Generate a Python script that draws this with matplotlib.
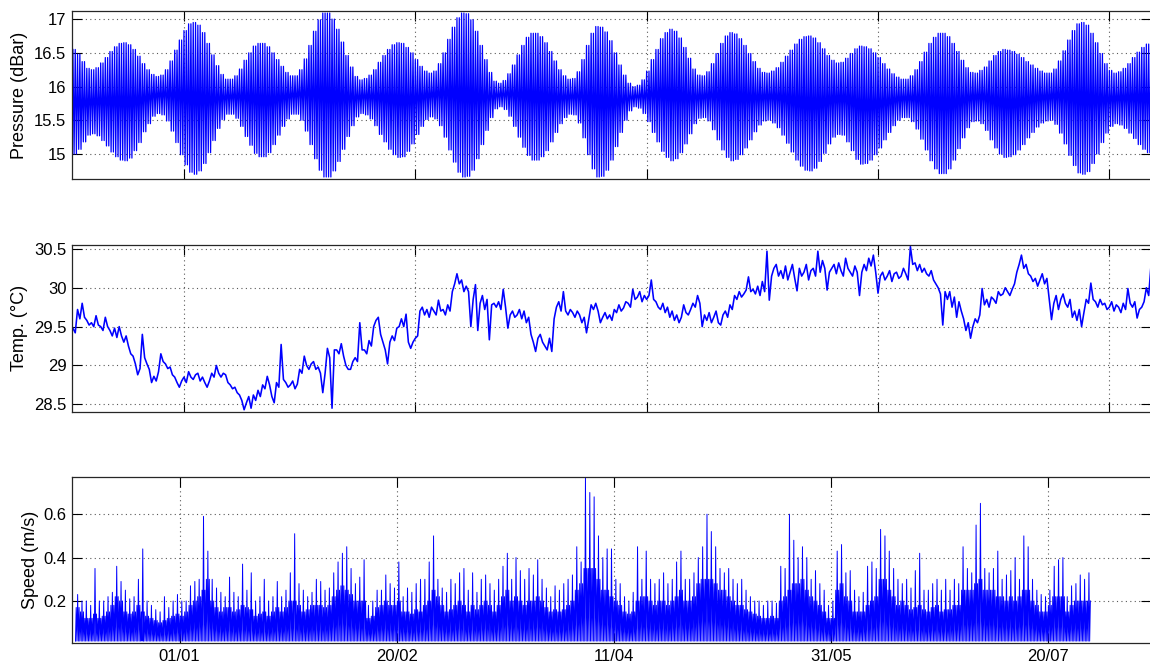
import numpy as np
import matplotlib
matplotlib.use("Agg")
import matplotlib.pyplot as plt

# ---------------- data (days counted from 01/01) ----------------
first_day = -24
last_day = 209

# daily high / low envelope of the tidal pressure signal (dBar)
pressure_high = [
    16.55, 16.48, 16.37, 16.27, 16.25, 16.28, 16.35, 16.43, 16.52, 16.59,
    16.64, 16.65, 16.62, 16.55, 16.45, 16.34, 16.25, 16.18, 16.15, 16.17,
    16.25, 16.38, 16.54, 16.69, 16.83, 16.93, 16.95, 16.91, 16.80, 16.64,
    16.47, 16.31, 16.18, 16.11, 16.11, 16.16, 16.26, 16.39, 16.50, 16.60,
    16.64, 16.64, 16.59, 16.50, 16.40, 16.30, 16.21, 16.16, 16.16, 16.25,
    16.41, 16.61, 16.82, 16.99, 17.09, 17.09, 17.00, 16.85, 16.66, 16.46,
    16.29, 16.15, 16.10, 16.12, 16.17, 16.25, 16.36, 16.46, 16.55, 16.62,
    16.65, 16.64, 16.58, 16.50, 16.40, 16.30, 16.23, 16.20, 16.23, 16.34,
    16.50, 16.70, 16.88, 17.02, 17.09, 17.08, 16.99, 16.82, 16.61, 16.40,
    16.21, 16.08, 16.05, 16.09, 16.19, 16.32, 16.47, 16.61, 16.73, 16.79,
    16.79, 16.74, 16.65, 16.52, 16.38, 16.25, 16.16, 16.11, 16.12, 16.22,
    16.40, 16.61, 16.79, 16.89, 16.88, 16.81, 16.68, 16.50, 16.32, 16.17,
    16.05, 16.00, 16.02, 16.10, 16.23, 16.40, 16.55, 16.71, 16.80, 16.85,
    16.82, 16.72, 16.58, 16.42, 16.26, 16.17, 16.16, 16.22, 16.34, 16.49,
    16.64, 16.75, 16.80, 16.78, 16.71, 16.61, 16.49, 16.37, 16.27, 16.21,
    16.20, 16.23, 16.28, 16.36, 16.45, 16.54, 16.63, 16.70, 16.74, 16.75,
    16.72, 16.65, 16.56, 16.46, 16.39, 16.35, 16.36, 16.42, 16.49, 16.56,
    16.60, 16.59, 16.56, 16.50, 16.43, 16.34, 16.26, 16.19, 16.14, 16.11,
    16.11, 16.16, 16.25, 16.37, 16.51, 16.64, 16.73, 16.79, 16.79, 16.74,
    16.64, 16.52, 16.39, 16.28, 16.21, 16.20, 16.24, 16.29, 16.38, 16.46,
    16.52, 16.55, 16.54, 16.52, 16.48, 16.43, 16.37, 16.32, 16.27, 16.23,
    16.20, 16.20, 16.26, 16.38, 16.53, 16.69, 16.83, 16.93, 16.95, 16.91,
    16.79, 16.65, 16.49, 16.34, 16.24, 16.20, 16.22, 16.27, 16.34, 16.43,
    16.51, 16.58, 16.63, 16.65,
]
pressure_low = [
    15.00, 15.07, 15.18, 15.28, 15.30, 15.27, 15.20, 15.12, 15.03, 14.96,
    14.91, 14.90, 14.94, 15.05, 15.17, 15.33, 15.45, 15.56, 15.60, 15.58,
    15.49, 15.34, 15.17, 14.99, 14.84, 14.73, 14.70, 14.75, 14.86, 15.02,
    15.20, 15.38, 15.51, 15.59, 15.59, 15.53, 15.41, 15.26, 15.13, 15.01,
    14.96, 14.96, 15.02, 15.14, 15.28, 15.41, 15.52, 15.59, 15.59, 15.50,
    15.34, 15.14, 14.93, 14.76, 14.66, 14.66, 14.75, 14.89, 15.07, 15.26,
    15.42, 15.55, 15.60, 15.58, 15.52, 15.42, 15.29, 15.18, 15.07, 14.99,
    14.95, 14.96, 15.04, 15.15, 15.29, 15.41, 15.51, 15.55, 15.52, 15.42,
    15.25, 15.06, 14.88, 14.73, 14.66, 14.67, 14.76, 14.93, 15.14, 15.35,
    15.54, 15.67, 15.70, 15.66, 15.56, 15.41, 15.25, 15.10, 14.98, 14.91,
    14.91, 14.96, 15.05, 15.18, 15.32, 15.45, 15.54, 15.59, 15.58, 15.46,
    15.24, 14.99, 14.78, 14.66, 14.67, 14.76, 14.91, 15.11, 15.32, 15.50,
    15.64, 15.70, 15.68, 15.60, 15.48, 15.32, 15.18, 15.04, 14.95, 14.90,
    14.93, 15.02, 15.15, 15.30, 15.45, 15.53, 15.54, 15.49, 15.36, 15.21,
    15.06, 14.95, 14.90, 14.92, 14.99, 15.09, 15.21, 15.33, 15.43, 15.49,
    15.50, 15.46, 15.39, 15.28, 15.16, 15.03, 14.91, 14.82, 14.76, 14.75,
    14.79, 14.89, 15.01, 15.15, 15.25, 15.29, 15.28, 15.18, 15.05, 14.92,
    14.85, 14.86, 14.91, 14.99, 15.09, 15.21, 15.32, 15.42, 15.50, 15.54,
    15.54, 15.48, 15.37, 15.22, 15.06, 14.90, 14.78, 14.71, 14.71, 14.78,
    14.91, 15.08, 15.24, 15.39, 15.48, 15.49, 15.45, 15.35, 15.21, 15.09,
    15.00, 14.95, 14.96, 14.99, 15.06, 15.14, 15.24, 15.32, 15.40, 15.46,
    15.49, 15.50, 15.44, 15.31, 15.15, 14.98, 14.83, 14.72, 14.70, 14.74,
    14.86, 15.00, 15.17, 15.31, 15.41, 15.45, 15.43, 15.38, 15.31, 15.23,
    15.14, 15.07, 15.02, 15.00,
]

# temperature, two readings per day (degC)
temperature = [
    29.48, 29.42, 29.72, 29.60, 29.80, 29.62, 29.58, 29.52, 29.55, 29.50,
    29.64, 29.52, 29.50, 29.45, 29.62, 29.50, 29.45, 29.38, 29.48, 29.36,
    29.50, 29.38, 29.30, 29.38, 29.25, 29.15, 29.12, 29.02, 28.88, 28.96,
    29.40, 29.10, 29.02, 28.95, 28.78, 28.86, 28.80, 28.92, 29.15, 29.05,
    29.02, 28.96, 28.98, 28.88, 28.85, 28.78, 28.72, 28.80, 28.85, 28.78,
    28.92, 28.85, 28.82, 28.88, 28.90, 28.80, 28.85, 28.78, 28.72, 28.80,
    28.90, 28.85, 29.00, 28.90, 28.85, 28.90, 28.88, 28.78, 28.75, 28.70,
    28.72, 28.65, 28.62, 28.55, 28.43, 28.52, 28.60, 28.45, 28.62, 28.55,
    28.68, 28.60, 28.75, 28.70, 28.86, 28.75, 28.60, 28.52, 28.78, 28.72,
    29.27, 28.82, 28.78, 28.72, 28.75, 28.80, 28.70, 28.76, 28.95, 28.90,
    29.12, 29.00, 28.95, 29.02, 29.05, 28.95, 28.98, 28.90, 28.65, 28.90,
    29.22, 29.10, 28.45, 29.20, 29.20, 29.15, 29.28, 29.12, 29.00, 28.95,
    28.95, 29.05, 29.10, 29.05, 29.55, 29.20, 29.20, 29.15, 29.32, 29.25,
    29.50, 29.58, 29.62, 29.40, 29.30, 29.20, 29.02, 29.30, 29.38, 29.32,
    29.48, 29.50, 29.60, 29.50, 29.66, 29.30, 29.22, 29.30, 29.35, 29.38,
    29.70, 29.75, 29.65, 29.72, 29.62, 29.75, 29.70, 29.65, 29.84, 29.70,
    29.72, 29.65, 29.78, 29.70, 29.95, 30.05, 30.18, 30.05, 30.10, 29.95,
    30.02, 29.95, 29.50, 29.85, 30.04, 29.45, 29.80, 29.90, 29.72, 29.85,
    29.33, 29.78, 29.80, 29.75, 29.82, 29.72, 29.98, 29.75, 29.48, 29.65,
    29.70, 29.62, 29.65, 29.72, 29.60, 29.70, 29.55, 29.62, 29.40, 29.30,
    29.18, 29.35, 29.40, 29.30, 29.25, 29.20, 29.35, 29.18, 29.60, 29.75,
    29.82, 29.70, 29.95, 29.70, 29.65, 29.72, 29.68, 29.62, 29.70, 29.65,
    29.55, 29.62, 29.42, 29.60, 29.78, 29.72, 29.80, 29.70, 29.55, 29.62,
    29.68, 29.60, 29.65, 29.58, 29.72, 29.68, 29.78, 29.70, 29.74, 29.82,
    29.80, 29.75, 29.98, 29.85, 29.88, 29.95, 29.82, 29.90, 29.85, 29.90,
    30.10, 29.85, 29.82, 29.75, 29.72, 29.80, 29.68, 29.75, 29.62, 29.70,
    29.58, 29.65, 29.55, 29.62, 29.78, 29.68, 29.65, 29.72, 29.80, 29.75,
    29.90, 29.80, 29.50, 29.65, 29.58, 29.68, 29.55, 29.62, 29.70, 29.55,
    29.52, 29.65, 29.70, 29.62, 29.78, 29.72, 29.90, 29.85, 29.95, 29.88,
    29.92, 29.97, 30.14, 29.95, 29.98, 29.92, 30.02, 29.90, 30.08, 29.95,
    30.47, 29.84, 30.15, 30.25, 30.30, 30.15, 30.22, 30.12, 30.28, 30.10,
    30.20, 30.30, 30.12, 29.96, 30.25, 30.15, 30.20, 30.30, 30.10, 30.22,
    30.25, 30.15, 30.47, 30.20, 30.35, 30.25, 29.97, 30.20, 30.25, 30.30,
    30.18, 30.32, 30.22, 30.15, 30.38, 30.25, 30.20, 30.15, 30.28, 30.20,
    29.90, 30.20, 30.30, 30.22, 30.38, 30.28, 30.42, 30.20, 29.93, 30.15,
    30.20, 30.10, 30.15, 30.22, 30.08, 30.18, 30.20, 30.12, 30.15, 30.25,
    30.18, 30.10, 30.53, 30.30, 30.32, 30.22, 30.30, 30.20, 30.25, 30.18,
    30.15, 30.22, 30.10, 30.05, 30.00, 29.92, 29.52, 29.95, 29.85, 29.95,
    29.75, 29.88, 29.62, 29.82, 29.70, 29.60, 29.45, 29.55, 29.35, 29.50,
    29.60, 29.55, 29.65, 29.99, 29.78, 29.85, 29.75, 29.88, 29.85, 29.80,
    29.95, 29.90, 29.92, 30.00, 29.95, 29.90, 29.98, 30.05, 30.20, 30.30,
    30.42, 30.25, 30.30, 30.18, 30.15, 30.08, 30.12, 30.02, 30.10, 30.18,
    30.05, 30.12, 29.85, 29.59, 29.80, 29.90, 29.72, 29.85, 29.92, 29.80,
    29.75, 29.85, 29.62, 29.70, 29.58, 29.72, 29.50, 29.68, 29.85, 29.80,
    30.06, 29.85, 29.82, 29.75, 29.85, 29.78, 29.80, 29.72, 29.75, 29.82,
    29.70, 29.78, 29.75, 29.68, 29.80, 29.72, 29.99, 29.80, 29.75, 29.82,
    29.61, 29.72, 29.75, 29.82, 30.00, 29.90, 30.29, 30.10,
]

# current speed: typical daily upper level and daily spike (m/s)
speed_floor = 0.015
speed_top = [
    0.17, 0.15, 0.12, 0.12, 0.14, 0.12, 0.13, 0.15, 0.18, 0.22,
    0.20, 0.15, 0.14, 0.15, 0.18, 0.15, 0.13, 0.12, 0.11, 0.10,
    0.11, 0.12, 0.13, 0.14, 0.13, 0.15, 0.18, 0.20, 0.22, 0.25,
    0.30, 0.20, 0.17, 0.15, 0.17, 0.17, 0.15, 0.16, 0.18, 0.17,
    0.16, 0.13, 0.14, 0.15, 0.13, 0.15, 0.17, 0.15, 0.17, 0.20,
    0.20, 0.18, 0.15, 0.16, 0.18, 0.18, 0.18, 0.17, 0.18, 0.22,
    0.25, 0.27, 0.25, 0.23, 0.20, 0.20, 0.20, 0.12, 0.13, 0.17,
    0.18, 0.20, 0.18, 0.18, 0.20, 0.15, 0.15, 0.14, 0.16, 0.15,
    0.18, 0.20, 0.25, 0.22, 0.18, 0.15, 0.16, 0.18, 0.20, 0.18,
    0.15, 0.18, 0.16, 0.18, 0.20, 0.18, 0.15, 0.18, 0.22, 0.25,
    0.20, 0.22, 0.20, 0.18, 0.20, 0.20, 0.22, 0.20, 0.17, 0.15,
    0.16, 0.15, 0.16, 0.18, 0.20, 0.25, 0.28, 0.35, 0.35, 0.35,
    0.30, 0.25, 0.25, 0.22, 0.20, 0.18, 0.15, 0.14, 0.15, 0.20,
    0.22, 0.22, 0.20, 0.18, 0.20, 0.20, 0.18, 0.20, 0.22, 0.25,
    0.20, 0.20, 0.22, 0.28, 0.30, 0.30, 0.30, 0.28, 0.25, 0.25,
    0.22, 0.20, 0.18, 0.18, 0.16, 0.15, 0.14, 0.13, 0.12, 0.12,
    0.13, 0.12, 0.20, 0.22, 0.25, 0.28, 0.28, 0.30, 0.25, 0.22,
    0.20, 0.18, 0.15, 0.12, 0.12, 0.25, 0.28, 0.22, 0.20, 0.15,
    0.15, 0.15, 0.18, 0.20, 0.22, 0.30, 0.30, 0.25, 0.22, 0.18,
    0.20, 0.18, 0.16, 0.17, 0.18, 0.16, 0.15, 0.17, 0.18, 0.15,
    0.16, 0.16, 0.18, 0.18, 0.25, 0.25, 0.25, 0.28, 0.30, 0.25,
    0.25, 0.25, 0.22, 0.22, 0.20, 0.22, 0.20, 0.22, 0.25, 0.25,
    0.20, 0.18, 0.15, 0.15, 0.18, 0.22, 0.22, 0.22, 0.15, 0.18,
    0.20, 0.20, 0.20, 0.20,
]
speed_peak = [
    0.23, 0.20, 0.20, 0.18, 0.35, 0.20, 0.20, 0.22, 0.24, 0.36,
    0.29, 0.25, 0.21, 0.22, 0.30, 0.44, 0.20, 0.18, 0.16, 0.15,
    0.22, 0.17, 0.20, 0.23, 0.20, 0.20, 0.27, 0.29, 0.30, 0.59,
    0.43, 0.30, 0.26, 0.24, 0.22, 0.31, 0.24, 0.22, 0.37, 0.25,
    0.33, 0.20, 0.22, 0.30, 0.20, 0.22, 0.29, 0.22, 0.25, 0.33,
    0.51, 0.28, 0.25, 0.22, 0.24, 0.30, 0.29, 0.25, 0.26, 0.33,
    0.38, 0.42, 0.45, 0.35, 0.28, 0.31, 0.39, 0.18, 0.20, 0.25,
    0.25, 0.32, 0.28, 0.26, 0.38, 0.22, 0.26, 0.24, 0.28, 0.30,
    0.30, 0.38, 0.50, 0.30, 0.26, 0.24, 0.30, 0.28, 0.33, 0.35,
    0.25, 0.33, 0.24, 0.30, 0.32, 0.28, 0.25, 0.30, 0.36, 0.42,
    0.30, 0.40, 0.34, 0.30, 0.35, 0.32, 0.39, 0.30, 0.26, 0.22,
    0.27, 0.25, 0.28, 0.30, 0.32, 0.45, 0.38, 0.77, 0.70, 0.68,
    0.50, 0.40, 0.44, 0.44, 0.30, 0.28, 0.22, 0.20, 0.24, 0.45,
    0.30, 0.43, 0.30, 0.28, 0.30, 0.33, 0.28, 0.30, 0.38, 0.43,
    0.30, 0.30, 0.33, 0.40, 0.45, 0.60, 0.52, 0.45, 0.35, 0.33,
    0.35, 0.30, 0.28, 0.30, 0.25, 0.22, 0.20, 0.20, 0.18, 0.20,
    0.20, 0.19, 0.36, 0.35, 0.60, 0.48, 0.40, 0.45, 0.40, 0.30,
    0.34, 0.28, 0.25, 0.18, 0.20, 0.43, 0.46, 0.33, 0.34, 0.25,
    0.22, 0.24, 0.36, 0.38, 0.35, 0.53, 0.50, 0.43, 0.35, 0.30,
    0.28, 0.30, 0.26, 0.34, 0.42, 0.25, 0.25, 0.28, 0.30, 0.25,
    0.30, 0.25, 0.30, 0.28, 0.45, 0.35, 0.33, 0.55, 0.65, 0.35,
    0.33, 0.35, 0.43, 0.30, 0.32, 0.34, 0.40, 0.30, 0.50, 0.45,
    0.30, 0.25, 0.23, 0.22, 0.25, 0.36, 0.39, 0.40, 0.22, 0.27,
    0.28, 0.32, 0.30, 0.33,
]

tick_days = [0, 50, 100, 150, 200]
tick_labels = ["01/01", "20/02", "11/04", "31/05", "20/07"]
p_ticks = [15, 15.5, 16, 16.5, 17]
t_ticks = [28.5, 29, 29.5, 30, 30.5]
s_ticks = [0.2, 0.4, 0.6]

# ---------------- build plotted series ----------------
days = np.arange(first_day, last_day + 1)
ph = np.asarray(pressure_high)
pl = np.asarray(pressure_low)
p_t = (days[:, None] + np.array([0.0, 0.25, 0.5, 0.75])[None, :]).ravel()
p_v = np.column_stack([ph, pl, ph, pl]).ravel()

t_v = np.asarray(temperature)
t_t = first_day + 0.5 * np.arange(len(t_v))

st = np.asarray(speed_top)
sp = np.asarray(speed_peak)
sf = np.full_like(st, speed_floor)
s_t = (days[:, None] + np.arange(6)[None, :] / 6.0).ravel()
s_v = np.column_stack([sf, st, sf, sp, sf, st]).ravel()

# ---------------- figure ----------------
plt.rcParams["font.family"] = ["Liberation Sans", "DejaVu Sans"]
W, H = 1150, 666
fig = plt.figure(figsize=(W / 100, H / 100), dpi=100)
left = 72 / W
width = 1079 / W
ax1 = fig.add_axes([left, 1 - 179 / H, width, 168 / H])
ax2 = fig.add_axes([left, 1 - 411.7 / H, width, 166.7 / H])
ax3 = fig.add_axes([left, 1 - 643.3 / H, width, 166 / H])

blue = "#0000ff"
ax1.plot(p_t, p_v, color=blue, lw=0.9)
ax2.plot(t_t, t_v, color=blue, lw=1.15)
ax3.plot(s_t, s_v, color=blue, lw=0.7)

ax1.set_xlim(-24.2, 209.0)
ax2.set_xlim(-24.2, 209.0)
ax3.set_xlim(-24.8, 223.8)
ax1.set_ylim(14.63, 17.12)
ax2.set_ylim(28.405, 30.55)
ax3.set_ylim(0.005, 0.77)

ax1.set_yticks(p_ticks)
ax1.set_yticklabels(["15", "15.5", "16", "16.5", "17"])
ax2.set_yticks(t_ticks)
ax2.set_yticklabels(["28.5", "29", "29.5", "30", "30.5"])
ax3.set_yticks(s_ticks)
ax3.set_yticklabels(["0.2", "0.4", "0.6"])

for ax in (ax1, ax2, ax3):
    ax.set_xticks(tick_days)
    ax.set_axisbelow(True)
    ax.grid(True, linestyle=(0, (1, 3)), color="0.35", linewidth=0.8)
    ax.tick_params(direction="in", length=7, width=0.8, top=True, right=True,
                   labelsize=12, colors="black", pad=4)
    for s in ax.spines.values():
        s.set_color("0.15")
        s.set_linewidth(0.9)
ax1.set_xticklabels([])
ax2.set_xticklabels([])
ax3.set_xticklabels(tick_labels)

ax1.set_ylabel("Pressure (dBar)", fontsize=13)
ax2.set_ylabel("Temp. (°C)", fontsize=13)
ax3.set_ylabel("Speed (m/s)", fontsize=13)
ax1.yaxis.set_label_coords(-0.041, 0.5)
ax2.yaxis.set_label_coords(-0.041, 0.5)
ax3.yaxis.set_label_coords(-0.031, 0.5)

fig.savefig("out.png", dpi=100)
